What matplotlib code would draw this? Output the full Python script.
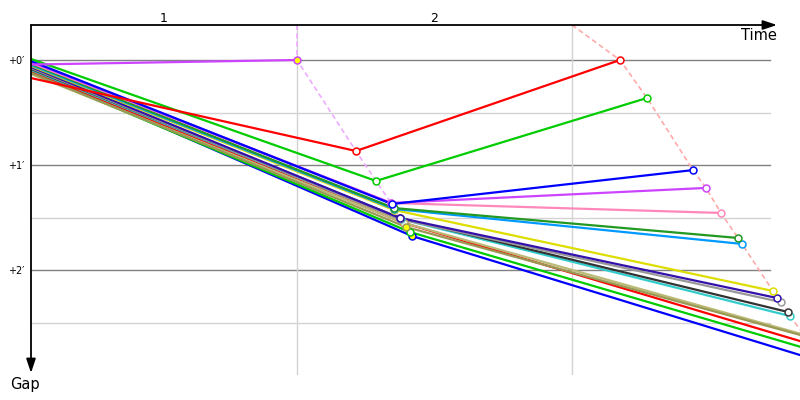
import matplotlib
matplotlib.use("Agg")
import matplotlib.pyplot as plt

# ---- data (time in s, gap in s) ----
colors = ["#CC44FF", "#FF0000", "#00CC00", "#0000FF", "#CC44FF", "#FF88BB",
          "#229922", "#0099FF", "#DDDD00", "#3311AA", "#999999", "#333333",
          "#33CCCC", "#999955", "#BBBB77", "#FF0000", "#00CC00", "#0000FF"]
start_gap = [2.6, 10.3, -0.6, 0.6, 1.1, 1.7, 2.3, 2.9, 3.4, 4.0, 4.6, 5.1,
             5.7, 7.4, 8.0, 6.3, 6.9, 5.7]
lap1_time = [228.3, 278.9, 296.1, 309.8, 309.0, 309.0, 311.6, 311.6, 311.6,
             316.7, 316.7, 316.7, 317.6, 321.8, 320.1, 320.1, 325.3, 327.0]
lap1_gap = [0.0, 52.0, 69.1, 82.3, 81.7, 81.7, 84.6, 85.1, 85.7,
            90.3, 90.9, 90.3, 90.9, 95.4, 93.1, 93.1, 98.3, 100.6]
lap2_time = [None, 505.5, 528.7, 568.2, 579.3, 592.2, 606.8, 610.2, 636.8,
             640.3, 643.7, 649.7, 651.4, 665.0, 663.5, 667.6, 671.6, 677.7]
lap2_gap = [None, 0.0, 21.7, 62.9, 73.1, 87.4, 101.7, 105.1, 132.0,
            136.0, 138.3, 144.0, 146.3, 158.0, 157.0, 162.1, 166.1, 172.2]
lap1_fill = ["#FFFF00", "white", "white", "white", "white", "white", "white",
             "white", "#FFFF00", "white", "white", "white", "white", "#FFFF00",
             "white", "#FFFF00", "white", "#FFFF00"]
lap_labels = ["1", "2"]
lap_grid = [228.3, 464.3]
lap_line_start = [228.3, 464.3]
lap_line_colors = ["#EEAAFF", "#FFAAAA"]
gap_major = [0, 60, 120]
gap_major_labels = ["+0\u2032", "+1\u2032", "+2\u2032"]
gap_minor = [30, 90, 150]

fig = plt.figure(figsize=(8, 4), dpi=100)
ax = fig.add_axes([31 / 800, 25 / 400, 769 / 800, 350 / 400])
ax.set_xlim(0, 660)
ax.set_ylim(180, -20)
for s in ax.spines.values():
    s.set_visible(False)
ax.set_xticks([])
ax.set_yticks(gap_major)
ax.set_yticklabels(gap_major_labels, fontsize=7)
ax.tick_params(axis="y", length=0, pad=5)

gx = (770 - 31) / 769
for g in gap_major:
    ax.axhline(g, xmin=0, xmax=gx, color="#808080", lw=1, zorder=1)
for g in gap_minor:
    ax.axhline(g, xmin=0, xmax=gx, color="#D3D3D3", lw=1, zorder=1)
for t in lap_grid:
    ax.axvline(t, color="#D3D3D3", lw=1, zorder=1)

# lap labels at top
bounds = [0] + lap_grid
for i, lab in enumerate(lap_labels):
    ax.text((bounds[i] + bounds[i + 1]) / 2, -20, lab, ha="center",
            va="bottom", fontsize=9, transform=ax.transData)

# lap finish dashed lines
lap1_pts = sorted(zip(lap1_time, lap1_gap))
xs = [lap_line_start[0]] + [p[0] for p in lap1_pts]
ys = [-20] + [p[1] for p in lap1_pts]
ax.plot(xs, ys, color=lap_line_colors[0], lw=1.2, ls=(0, (3, 2)), zorder=2)
lap2_pts = sorted((t, g) for t, g in zip(lap2_time, lap2_gap) if t is not None)
xs = [lap_line_start[1]] + [p[0] for p in lap2_pts]
ys = [-20] + [p[1] for p in lap2_pts]
ax.plot(xs, ys, color=lap_line_colors[1], lw=1.2, ls=(0, (3, 2)), zorder=2)

# driver lines
n = len(colors)
for i in reversed(range(n)):
    xs = [0, lap1_time[i]]
    ys = [start_gap[i], lap1_gap[i]]
    if lap2_time[i] is not None:
        xs.append(lap2_time[i])
        ys.append(lap2_gap[i])
    ax.plot(xs, ys, color=colors[i], lw=1.6, zorder=3, solid_capstyle="butt")
for i in reversed(range(n)):
    ax.plot(lap1_time[i], lap1_gap[i], "o", ms=5, mfc=lap1_fill[i],
            mec=colors[i], mew=1.1, zorder=4)
    if lap2_time[i] is not None:
        ax.plot(lap2_time[i], lap2_gap[i], "o", ms=5, mfc="white",
                mec=colors[i], mew=1.1, zorder=4)

# axes arrows
ap = dict(arrowstyle="-|>,head_length=0.6,head_width=0.2", color="black",
          lw=1.3, mutation_scale=14, shrinkA=0, shrinkB=0)
ax.annotate("", xy=(777 / 800, 1 - 25 / 400), xytext=(31 / 800, 1 - 25 / 400),
            xycoords="figure fraction", textcoords="figure fraction",
            arrowprops=ap, annotation_clip=False)
ax.annotate("", xy=(31 / 800, 1 - 373 / 400), xytext=(31 / 800, 1 - 25 / 400),
            xycoords="figure fraction", textcoords="figure fraction",
            arrowprops=ap, annotation_clip=False)
fig.text(777 / 800, 1 - 36 / 400, "Time", ha="right", va="center", fontsize=10.5)
fig.text(25 / 800, 1 - 385 / 400, "Gap", ha="center", va="center", fontsize=10.5)

fig.savefig("out.png", dpi=100)
